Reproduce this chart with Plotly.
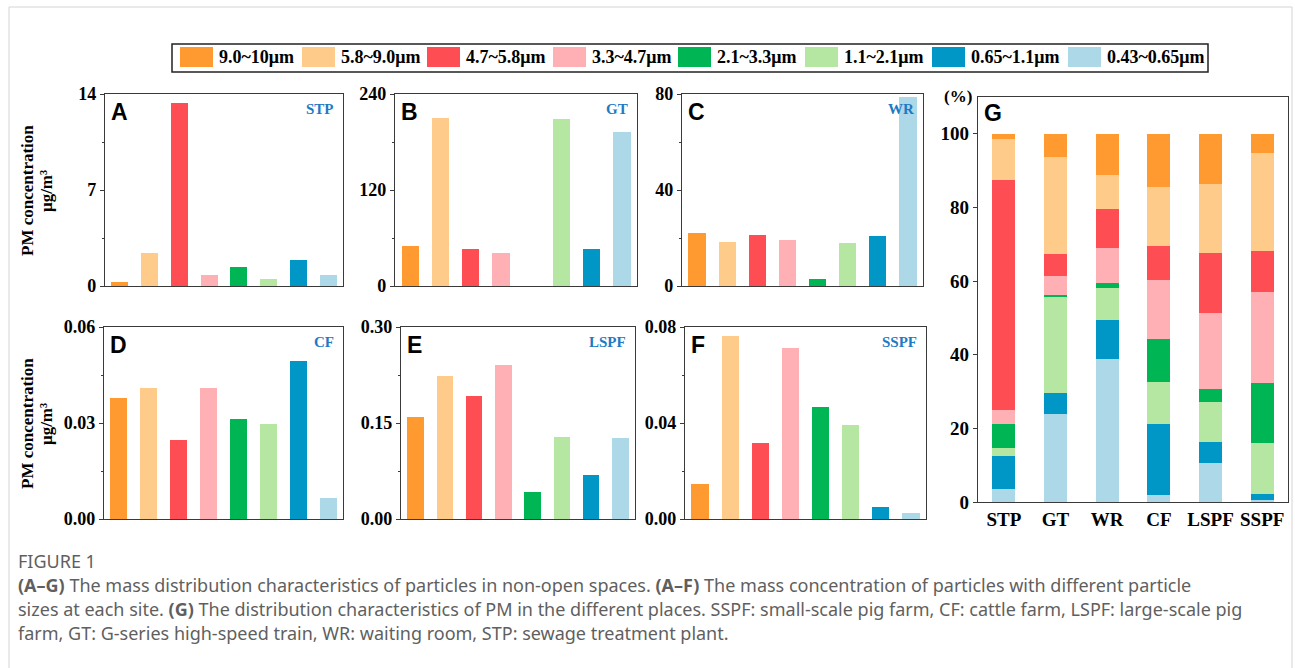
import plotly.graph_objects as go

# ---------------- data ----------------
size_classes = ["9.0~10μm", "5.8~9.0μm", "4.7~5.8μm", "3.3~4.7μm",
                "2.1~3.3μm", "1.1~2.1μm", "0.65~1.1μm", "0.43~0.65μm"]
colors = ["#FF9A30", "#FFCB8B", "#FF4E53", "#FFB0B5",
          "#00B554", "#B5E6A2", "#0096C6", "#ADD8E8"]

# mass concentration (µg/m3) per size class at each site
conc_stp = [0.29, 2.38, 13.37, 0.83, 1.36, 0.51, 1.90, 0.83]
conc_gt = [49.6, 210.0, 46.7, 41.7, 0.0, 209.0, 45.8, 193.0]
conc_wr = [22.2, 18.3, 21.4, 19.2, 2.9, 17.9, 20.7, 78.9]
conc_cf = [0.0378, 0.0410, 0.0247, 0.0410, 0.0312, 0.0296, 0.0493, 0.0066]
conc_lspf = [0.159, 0.223, 0.192, 0.241, 0.0426, 0.128, 0.069, 0.127]
conc_sspf = [0.0146, 0.0762, 0.0317, 0.0714, 0.0466, 0.0392, 0.0049, 0.0024]

# panel G: percentage share of each size class per site
sites = ["STP", "GT", "WR", "CF", "LSPF", "SSPF"]
pct_9_10 = [1.5, 6.2, 11.1, 14.5, 13.6, 5.3]
pct_58_90 = [11.0, 26.5, 9.2, 15.9, 18.8, 26.5]
pct_47_58 = [62.5, 6.0, 10.6, 9.4, 16.3, 11.2]
pct_33_47 = [3.7, 5.2, 9.6, 15.8, 20.5, 24.7]
pct_21_33 = [6.6, 0.3, 1.3, 11.9, 3.6, 16.4]
pct_11_21 = [2.2, 26.1, 8.9, 11.4, 10.9, 13.7]
pct_065_11 = [8.9, 5.7, 10.4, 19.1, 5.8, 1.6]
pct_043_065 = [3.6, 24.0, 38.9, 2.0, 10.5, 0.6]

panel_letters = ["A", "B", "C", "D", "E", "F"]
panel_sites = ["STP", "GT", "WR", "CF", "LSPF", "SSPF"]
panel_ymax = [14, 240, 80, 0.06, 0.30, 0.08]
panel_fmt = ["d", "d", "d", ".2f", ".2f", ".2f"]

# ---------------- layout helpers ----------------
W, H = 1295, 668
def px(x):
    return x / W
def py(y):
    return 1 - y / H

SERIF = "Liberation Serif, Times New Roman, serif"
SANS = "Liberation Sans, Arial, sans-serif"
AXC = "#3a3a3a"

# pixel boxes (left, right, top, bottom)
boxes = [
    (105, 343, 94, 286), (395, 637, 94, 286), (682, 923, 94, 286),
    (104, 343, 327, 519), (401, 635, 327, 519), (685, 926, 327, 519),
]
box_g = (978, 1288, 97, 502)

fig = go.Figure()
layout = dict(
    width=W, height=H, margin=dict(l=0, r=0, t=0, b=0, autoexpand=False),
    paper_bgcolor="white", plot_bgcolor="white",
    showlegend=False, barmode="stack",
)

conc_all = [conc_stp, conc_gt, conc_wr, conc_cf, conc_lspf, conc_sspf]
annotations = []
shapes = []
TICKF = dict(family=SERIF, size=18, color="black", weight="bold")

for i, (vals, box) in enumerate(zip(conc_all, boxes)):
    n = i + 1
    xa = "x" if n == 1 else f"x{n}"
    ya = "y" if n == 1 else f"y{n}"
    fig.add_trace(go.Bar(
        x=list(range(len(size_classes))), y=vals,
        marker=dict(color=colors, line=dict(width=0)),
        width=0.57, xaxis=xa, yaxis=ya,
        hovertext=size_classes, name=panel_sites[i],
    ))
    l, r, t, b = box
    ymax = panel_ymax[i]
    axis_common = dict(showline=True, mirror=True, linecolor=AXC, linewidth=1.2,
                       showgrid=False, zeroline=False, automargin=False)
    layout["xaxis" if n == 1 else f"xaxis{n}"] = dict(
        domain=[px(l), px(r)], anchor=ya, range=[-0.5, 7.5],
        showticklabels=False, ticks="", **axis_common)
    layout["yaxis" if n == 1 else f"yaxis{n}"] = dict(
        domain=[py(b), py(t)], anchor=xa, range=[0, ymax],
        tickvals=[0, ymax / 2, ymax], tickformat=panel_fmt[i],
        ticks="outside", ticklen=4, tickcolor=AXC,
        minor=dict(tickvals=[ymax / 4, 3 * ymax / 4], ticks="outside",
                   ticklen=2, tickcolor=AXC),
        tickfont=TICKF, **axis_common)
    annotations.append(dict(
        x=px(l + 4), y=py(t + 18), xref="paper", yref="paper",
        text=panel_letters[i], showarrow=False, xanchor="left", yanchor="middle",
        font=dict(family=SANS, size=23, color="black", weight="bold")))
    annotations.append(dict(
        x=px(r - 7), y=py(t + 15), xref="paper", yref="paper",
        text=panel_sites[i], showarrow=False, xanchor="right", yanchor="middle",
        font=dict(family=SERIF, size=15, color="#1C7BC4", weight="bold")))

# panel G stacked bars (bottom -> top)
pct_stack = [pct_043_065, pct_065_11, pct_11_21, pct_21_33,
             pct_33_47, pct_47_58, pct_58_90, pct_9_10]
stack_colors = colors[::-1]
stack_names = size_classes[::-1]
for vals, c, nm in zip(pct_stack, stack_colors, stack_names):
    fig.add_trace(go.Bar(
        x=sites, y=vals, name=nm, marker=dict(color=c, line=dict(width=0)),
        width=0.45, xaxis="x7", yaxis="y7"))
l, r, t, b = box_g
layout["xaxis7"] = dict(
    domain=[px(l), px(r)], anchor="y7", range=[-0.5, 5.5], ticks="",
    showline=True, mirror=True, linecolor=AXC, linewidth=1.2, showgrid=False,
    automargin=False,
    tickfont=dict(family=SERIF, size=19, color="black", weight="bold"))
layout["yaxis7"] = dict(
    domain=[py(b), py(t)], anchor="x7", range=[0, 110],
    tickvals=[0, 20, 40, 60, 80, 100], ticks="outside", ticklen=4, tickcolor=AXC,
    showline=True, mirror=True, linecolor=AXC, linewidth=1.2, showgrid=False,
    zeroline=False, automargin=False,
    tickfont=dict(family=SERIF, size=19, color="black", weight="bold"))
annotations.append(dict(
    x=px(l + 4), y=py(t + 16), xref="paper", yref="paper", text="G",
    showarrow=False, xanchor="left", yanchor="middle",
    font=dict(family=SANS, size=23, color="black", weight="bold")))
annotations.append(dict(
    x=px(958), y=py(96), xref="paper", yref="paper", text="(%)",
    showarrow=False, xanchor="center", yanchor="middle",
    font=dict(family=SERIF, size=17, color="black", weight="bold")))

# y-axis titles for the two rows (two separate rotated lines each)
YT = dict(family=SERIF, size=17, color="black", weight="bold")
for yc in [191, 424]:
    annotations.append(dict(
        x=px(27), y=py(yc), xref="paper", yref="paper",
        text="PM concentration", textangle=-90,
        showarrow=False, xanchor="center", yanchor="middle", font=YT))
    annotations.append(dict(
        x=px(46), y=py(yc), xref="paper", yref="paper",
        text="μg/m³", textangle=-90,
        showarrow=False, xanchor="center", yanchor="middle", font=YT))

# legend (drawn from size_classes / colors)
legend_x = [180, 302, 427, 553, 678, 805, 932, 1068]
shapes.append(dict(type="rect", xref="paper", yref="paper",
                   x0=px(172), x1=px(1208), y0=py(72), y1=py(44),
                   line=dict(color="#222", width=1.5), fillcolor="white"))
for lx, c, lab in zip(legend_x, colors, size_classes):
    shapes.append(dict(type="rect", xref="paper", yref="paper",
                       x0=px(lx), x1=px(lx + 33), y0=py(67), y1=py(47),
                       line=dict(width=0), fillcolor=c))
    annotations.append(dict(
        x=px(lx + 37), y=py(57.5), xref="paper", yref="paper", text=lab,
        showarrow=False, xanchor="left", yanchor="middle",
        font=dict(family=SERIF, size=18, color="black", weight="bold")))

# outer frame
shapes.append(dict(type="rect", xref="paper", yref="paper",
                   x0=px(9), x1=px(1292), y0=-0.05, y1=py(7),
                   line=dict(color="#d4d4d4", width=1), layer="below"))

# caption
CAP = "Noto Sans, Open Sans, sans-serif"
capc = "#5f5f5f"
caption_lines = [
    ("FIGURE 1", 561),
    ("<b>(A–G)</b> The mass distribution characteristics of particles in non-open spaces. "
     "<b>(A–F)</b> The mass concentration of particles with different particle", 585),
    ("sizes at each site. <b>(G)</b> The distribution characteristics of PM in the different "
     "places. SSPF: small-scale pig farm, CF: cattle farm, LSPF: large-scale pig", 609),
    ("farm, GT: G-series high-speed train, WR: waiting room, STP: sewage treatment plant.", 633),
]
for txt, yy in caption_lines:
    annotations.append(dict(
        x=px(16), y=py(yy), xref="paper", yref="paper", text=txt,
        showarrow=False, xanchor="left", yanchor="middle",
        font=dict(family=CAP, size=18, color=capc)))

layout["annotations"] = annotations
layout["shapes"] = shapes
fig.update_layout(**layout)

fig.write_html(
    "out.html", config={"displayModeBar": False},
    post_script=("document.documentElement.style.cssText='margin:0;padding:0;overflow:hidden';"
                 "document.body.style.cssText='margin:0;padding:0;overflow:hidden';"))
